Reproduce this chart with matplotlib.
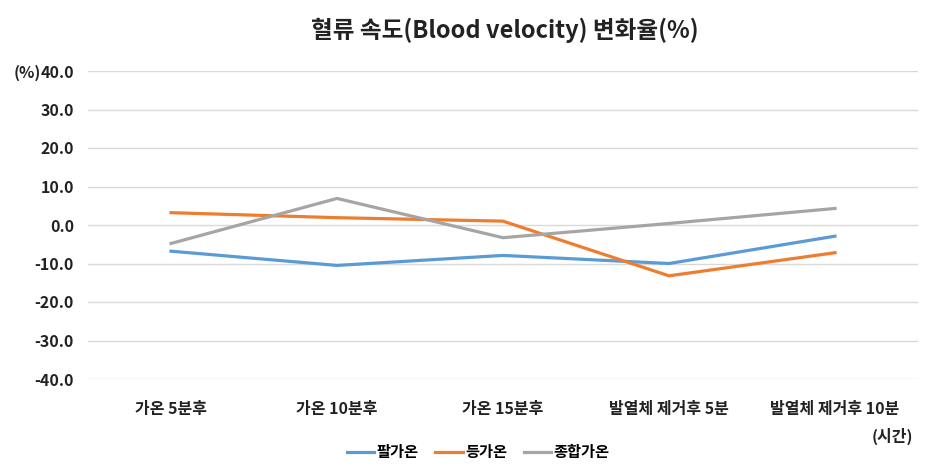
import matplotlib
matplotlib.use('Agg')
import matplotlib.pyplot as plt

plt.rcParams['font.family'] = ['Noto Sans CJK KR', 'DejaVu Sans']

# 데이터
categories = ['가온 5분후', '가온 10분후', '가온 15분후', '발열체 제거후 5분', '발열체 제거후 10분']
arm = [-6.8, -10.5, -7.9, -10.0, -2.9]      # 팔가온
back = [3.2, 1.9, 1.0, -13.2, -7.2]         # 등가온
combined = [-4.8, 6.9, -3.3, 0.4, 4.3]      # 종합가온
series_names = ['팔가온', '등가온', '종합가온']
colors = ['#5B9BD5', '#ED7D31', '#A5A5A5']
yticks = [-40, -30, -20, -10, 0, 10, 20, 30, 40]

fig = plt.figure(figsize=(9.26, 4.68), dpi=100)
ax = fig.add_axes([88/926, 1 - 379/468, 830/926, 308/468])

x = range(len(categories))
for vals, name, c in zip([arm, back, combined], series_names, colors):
    ax.plot(x, vals, color=c, lw=2.3, label=name)

ax.set_xlim(-0.5, len(categories) - 0.5)
ax.set_ylim(-40, 40)
ax.set_yticks(yticks)
ax.set_yticklabels(['%.1f' % v for v in yticks], fontsize=11.5, fontweight='bold', color='#222222')
ax.set_xticks(list(x))
ax.set_xticklabels(categories, fontsize=11.5, fontweight='bold', color='#222222')
ax.tick_params(axis='both', length=0)
ax.tick_params(axis='y', pad=10)
ax.tick_params(axis='x', pad=16)
ax.yaxis.grid(True, color='#d9d9d9', lw=1)
ax.set_axisbelow(True)
for s in ax.spines.values():
    s.set_visible(False)

fig.text(505/926, 1 - 30/468, '혈류 속도(Blood velocity) 변화율(%)', ha='center', va='center',
         fontsize=17, fontweight='bold', color='#222222')
fig.text(14/926, 1 - 73/468, '(%)', ha='left', va='center', fontsize=11.5, fontweight='bold', color='#222222')
fig.text(892/926, 1 - 436/468, '(시간)', ha='center', va='center', fontsize=11.5, fontweight='bold', color='#222222')

fig.legend(loc='center', bbox_to_anchor=(478/926, 1 - 452/468), ncol=3, frameon=False,
           prop={'size': 11, 'weight': 'bold'}, handlelength=1.8, handletextpad=0.15, columnspacing=1.1)

fig.savefig('out.png', dpi=100)
